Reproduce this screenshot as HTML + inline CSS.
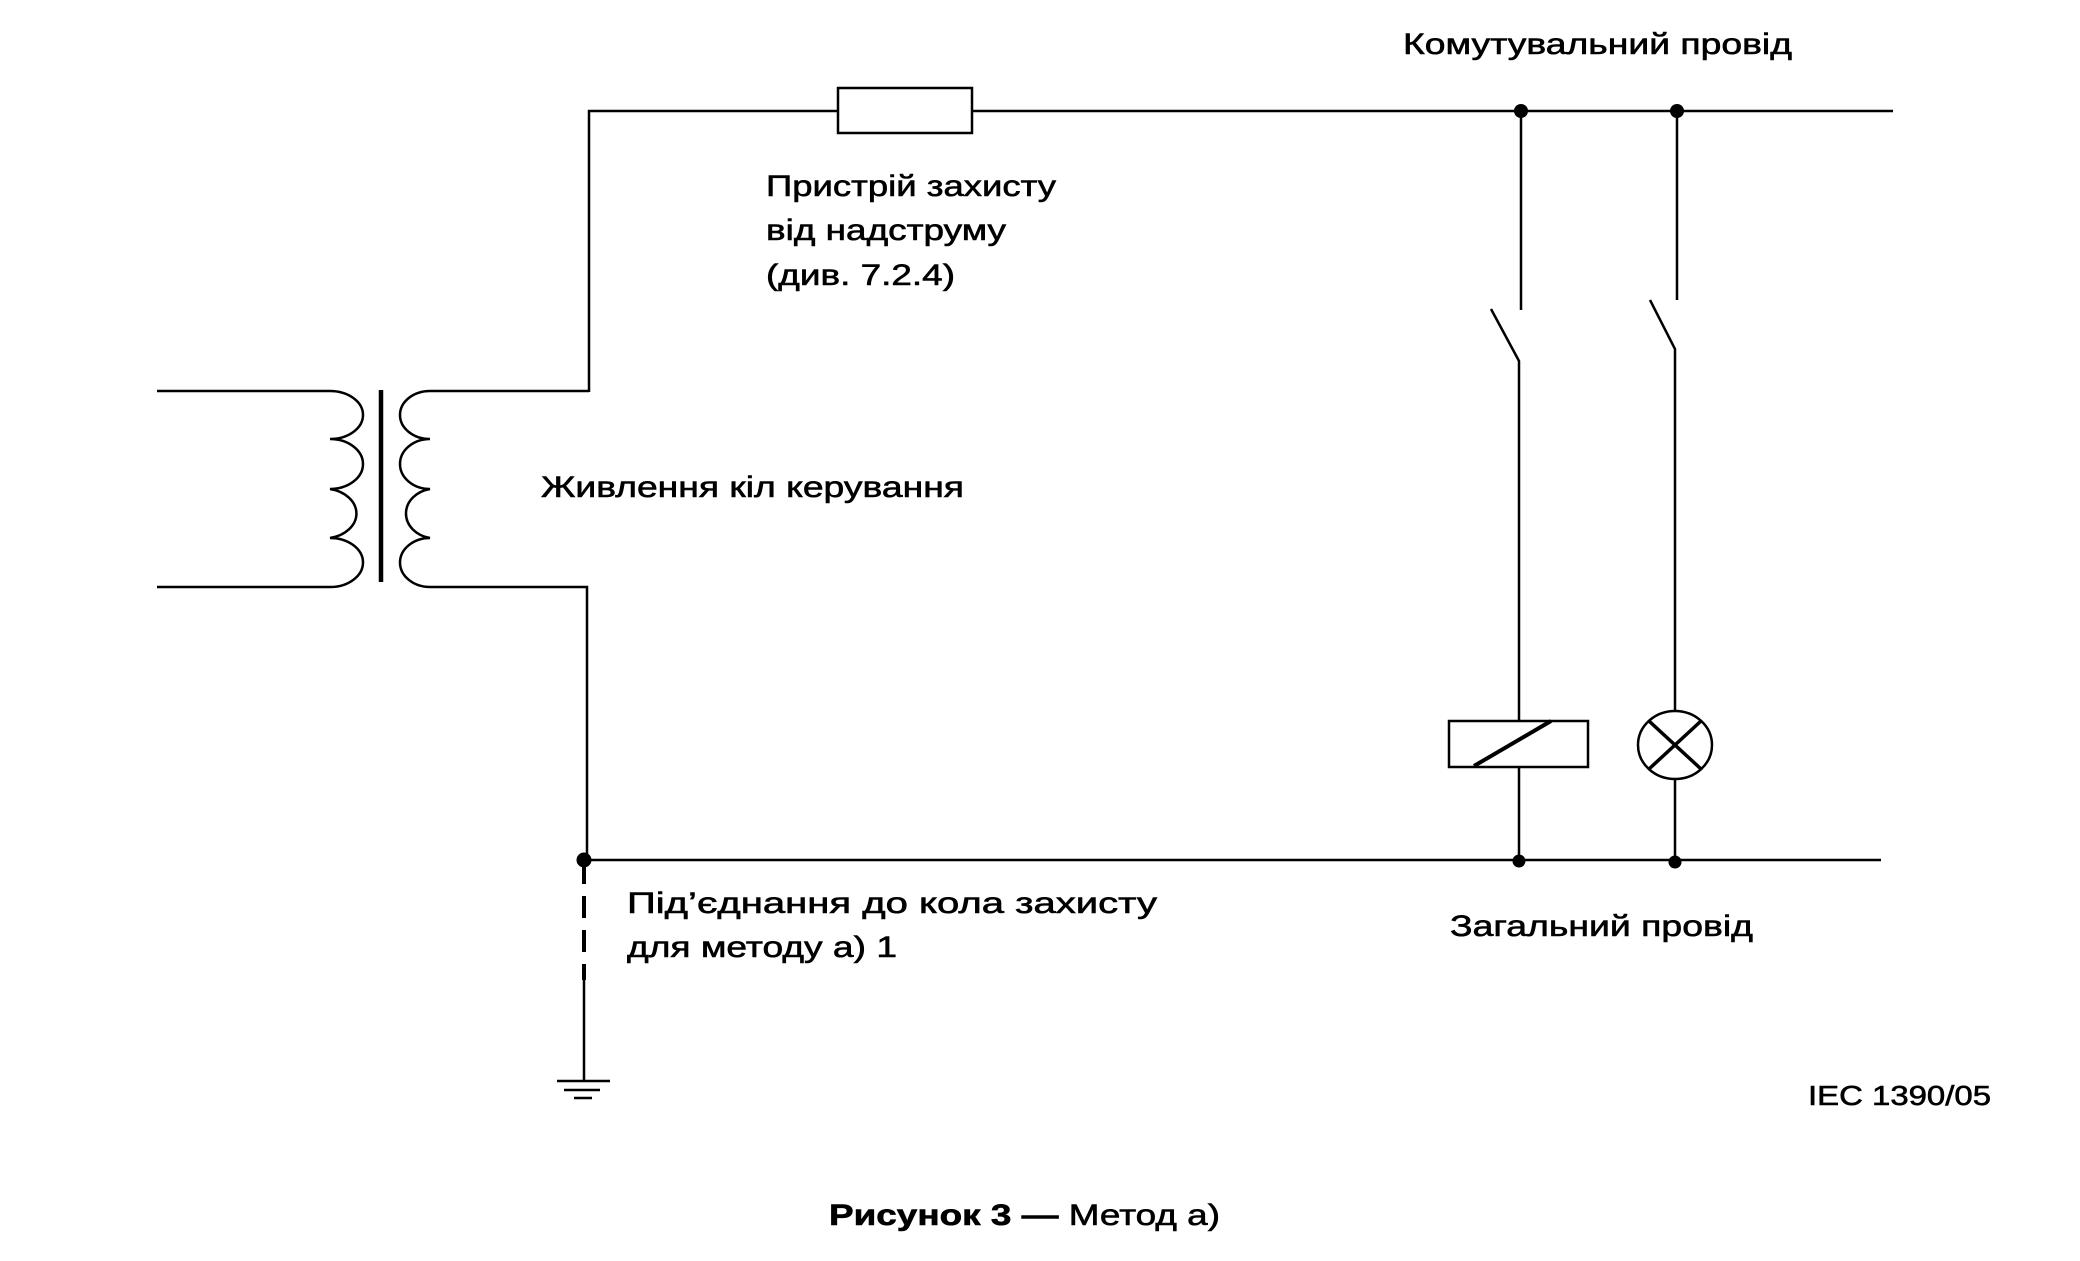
<!DOCTYPE html>
<html><head><meta charset="utf-8"><style>
html,body{margin:0;padding:0;background:#fff;}
svg{display:block;}
text{font-family:"Liberation Sans",Arial,sans-serif;fill:#000;stroke:#000;stroke-width:0.6;}
</style></head><body>
<svg width="2080" height="1261" viewBox="0 0 2080 1261" xmlns="http://www.w3.org/2000/svg">
<g fill="none" stroke="#000" stroke-width="2.5">
<path d="M589,392 V111 H838 M972,111 H1893"/>
<rect x="838" y="88" width="134" height="45"/>
<path d="M157,391 H330 A33,24 0 0 1 330,439 A33,25 0 0 1 330,489 A33,25 0 0 1 330,538 A33,24.5 0 0 1 330,587 H157"/>
<path d="M589,391 H430 A30,24 0 0 0 430,439 A30,25 0 0 0 430,489 A30,25 0 0 0 430,538 A30,24.5 0 0 0 430,587 H587 V860"/>
<line x1="381" y1="390" x2="381" y2="582" stroke-width="4.5"/>
<path d="M584,860 H1881"/>
<line x1="584" y1="862" x2="584" y2="980" stroke-width="4" stroke-dasharray="22,12"/>
<line x1="584" y1="980" x2="584" y2="1081"/>
<line x1="557" y1="1081" x2="610" y2="1081"/>
<line x1="564" y1="1090" x2="600" y2="1090"/>
<line x1="574" y1="1098" x2="592" y2="1098"/>
<path d="M1521,111 V310 M1491,309 L1519,361 V721 M1519,767 V860"/>
<rect x="1449" y="721" width="139" height="46"/>
<line x1="1474" y1="766" x2="1551" y2="721" stroke-width="4"/>
<path d="M1677,111 V300 M1650,300 L1675,349 V711 M1675,779 V860"/>
<ellipse cx="1675" cy="745" rx="37" ry="34"/>
<line x1="1649" y1="721" x2="1701" y2="769" stroke-width="3.5"/>
<line x1="1701" y1="721" x2="1649" y2="769" stroke-width="3.5"/>
</g>
<g fill="#000">
<circle cx="1521" cy="111" r="7"/>
<circle cx="1677" cy="111" r="7"/>
<circle cx="584" cy="860" r="7.5"/>
<circle cx="1519" cy="861" r="6.5"/>
<circle cx="1675" cy="862" r="6.5"/>
</g>
<g font-size="30">
<text x="1403" y="54" textLength="389" lengthAdjust="spacingAndGlyphs">Комутувальний провід</text>
<text x="766" y="196" textLength="290" lengthAdjust="spacingAndGlyphs">Пристрій захисту</text>
<text x="766" y="240" textLength="240" lengthAdjust="spacingAndGlyphs">від надструму</text>
<text x="766" y="285" textLength="189" lengthAdjust="spacingAndGlyphs">(див. 7.2.4)</text>
<text x="541" y="497" textLength="423" lengthAdjust="spacingAndGlyphs">Живлення кіл керування</text>
<text x="627" y="913" textLength="530" lengthAdjust="spacingAndGlyphs">Під’єднання до кола захисту</text>
<text x="627" y="957" textLength="270" lengthAdjust="spacingAndGlyphs">для методу а) 1</text>
<text x="1450" y="936" textLength="303" lengthAdjust="spacingAndGlyphs">Загальний провід</text>
<text x="1808" y="1105" font-size="28" textLength="183" lengthAdjust="spacingAndGlyphs">IEC 1390/05</text>
<text x="829" y="1225" textLength="391" lengthAdjust="spacingAndGlyphs"><tspan font-weight="bold">Рисунок 3 —</tspan> Метод а)</text>
</g>
</svg>
</body></html>
